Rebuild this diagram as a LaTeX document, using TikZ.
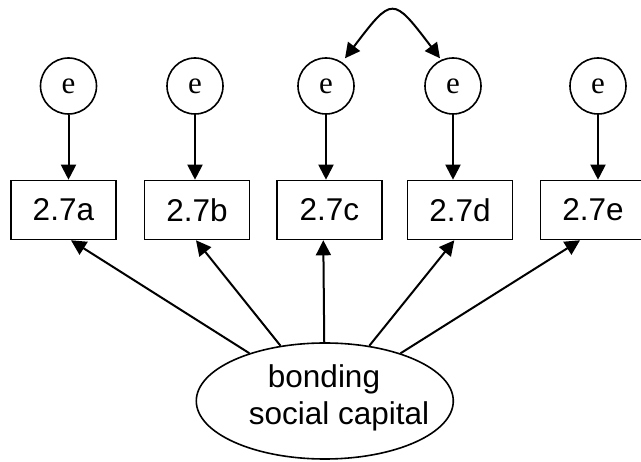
\documentclass[tikz,border=0pt]{standalone}
\usepackage{fontspec}
\setmainfont{Liberation Sans}
\newfontfamily\errfont{Liberation Serif}
\usetikzlibrary{arrows.meta,shapes.geometric,calc}
\begin{document}
\begin{tikzpicture}[x=1pt,y=-1pt,
  headtip/.style={-{Triangle[length=15pt,width=15pt]}},
  errnode/.style={circle,draw,line width=1.6pt,minimum size=56pt,inner sep=0pt,
    font=\errfont\fontsize{31}{31}\selectfont},
  itembox/.style={rectangle,draw,line width=1.6pt,minimum width=105pt,minimum height=59pt,
    inner sep=0pt,font=\fontsize{31.5}{31.5}\selectfont},
  latent/.style={ellipse,draw,line width=1.6pt,minimum width=257pt,minimum height=116pt,inner sep=0pt},
  lbltext/.style={anchor=base,inner sep=0pt,font=\fontsize{31.5}{31.5}\selectfont},
  link/.style={line width=2pt}
]
\useasboundingbox (0,0) rectangle (641,462);

% error terms
\node[errnode] (ea) at (68.5,86) {e};
\node[errnode] (eb) at (195,86) {e};
\node[errnode] (ec) at (326,86) {e};
\node[errnode] (ed) at (453,86) {e};
\node[errnode] (ee) at (598,86) {e};

% observed items
\node[itembox] (ba) at (63.4,210) {2.7a};
\node[itembox] (bb) at (197,210) {2.7b};
\node[itembox] (bc) at (329.3,210) {2.7c};
\node[itembox] (bd) at (460,210) {2.7d};
\node[itembox] (be) at (593,210) {2.7e};

% latent factor
\node[latent] (bsc) at (324.8,401) {};
\node[lbltext] (l1) at (324,388) {bonding};
\node[lbltext] (l2) at (339,425) {social capital};

% error paths
\foreach \e/\b in {ea/ba,eb/bb,ec/bc,ed/bd,ee/be}
  \draw[link,headtip] (\e.south) -- (\e.south |- \b.north);

% factor loadings
\draw[link,headtip] (bsc) -- ([xshift=7.6pt]ba.south);
\draw[link,headtip] (bsc) -- ([xshift=-1pt]bb.south);
\draw[link,headtip] (bsc) -- ([xshift=-6pt]bc.south);
\draw[link,headtip] (bsc) -- ([xshift=-5.7pt]bd.south);
\draw[link,headtip] (bsc) -- ([xshift=-13pt]be.south);

% correlated errors
\coordinate (cl) at ($(ec)+(19,-27.7)$);
\coordinate (cr) at ($(ed)+(-13,-27.7)$);
\draw[link,{Triangle[length=15pt,width=15pt]}-{Triangle[length=15pt,width=15pt]}]
  (cl) .. controls (392.5,-4) .. (cr);
\end{tikzpicture}
\end{document}
